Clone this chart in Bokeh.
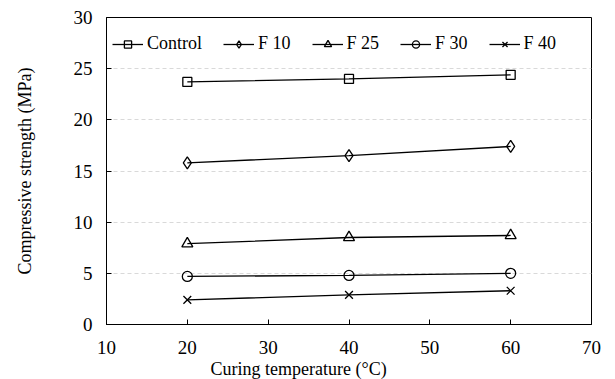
from bokeh.plotting import figure
from bokeh.models import Legend, LegendItem, Title, FixedTicker
from bokeh.embed import file_html
from bokeh.resources import INLINE

temps = [20, 40, 60]
control = [23.7, 24.0, 24.4]
f10 = [15.8, 16.5, 17.4]
f25 = [7.9, 8.5, 8.7]
f30 = [4.7, 4.8, 5.0]
f40 = [2.4, 2.9, 3.3]
series_names = ["Control", "F 10", "F 25", "F 30", "F 40"]
x_ticks = [10, 20, 30, 40, 50, 60, 70]
y_ticks = [0, 5, 10, 15, 20, 25, 30]

FONT = "Times New Roman"

p = figure(width=607, height=379, output_backend="svg", toolbar_location=None,
           x_range=(10, 70), y_range=(0, 30),
           min_border_left=106, min_border_right=16, min_border_top=17, min_border_bottom=55)

p.outline_line_color = "black"
p.outline_line_width = 1
p.xgrid.visible = False
p.ygrid.grid_line_color = "#d9d9d9"
p.ygrid.grid_line_dash = "4 3"
p.ygrid.grid_line_width = 1

for ax in p.axis:
    ax.major_tick_in = 5
    ax.major_tick_out = 0
    ax.minor_tick_line_color = None
    ax.axis_line_color = "black"
    ax.major_tick_line_color = "black"
    ax.major_label_text_font = FONT
    ax.major_label_text_font_style = "normal"
    ax.major_label_text_font_size = "19px"
    ax.major_label_text_color = "black"
p.xaxis[0].ticker = FixedTicker(ticks=x_ticks)
p.yaxis[0].ticker = FixedTicker(ticks=y_ticks)
p.xaxis[0].major_label_standoff = 16
p.yaxis[0].major_label_standoff = 14

p.yaxis[0].axis_label = "Compressive strength (MPa)"
p.yaxis[0].axis_label_text_font = FONT
p.yaxis[0].axis_label_text_font_size = "18px"
p.yaxis[0].axis_label_text_font_style = "normal"
p.yaxis[0].axis_label_text_color = "black"
p.yaxis[0].axis_label_standoff = 36

markers = ["square", "diamond", "triangle", "circle", "x"]
sizes = [9, 12, 11, 10, 11]
data = [control, f10, f25, f30, f40]
items = []
for name, ys, m, s in zip(series_names, data, markers, sizes):
    ln = p.line(temps, ys, line_color="black", line_width=1.3)
    sc = p.scatter(temps, ys, marker=m, size=s, line_color="black", line_width=1.3,
                   fill_color="white", fill_alpha=0.0)
    items.append(LegendItem(label=name, renderers=[ln, sc]))

legend = Legend(items=items, orientation="horizontal", location=(6, 270),
                border_line_color=None, background_fill_alpha=0.0,
                label_text_font=FONT, label_text_font_size="18px", label_text_color="black",
                glyph_width=31, glyph_height=18, label_standoff=4, spacing=21,
                padding=0, margin=0)
p.add_layout(legend, "center")

xt = Title(text="Curing temperature (°C)", align="left", offset=104, standoff=1,
           text_font=FONT, text_font_size="18px", text_font_style="normal", text_color="black")
p.add_layout(xt, "below")

open("out.html", "w").write(file_html(p, INLINE))
